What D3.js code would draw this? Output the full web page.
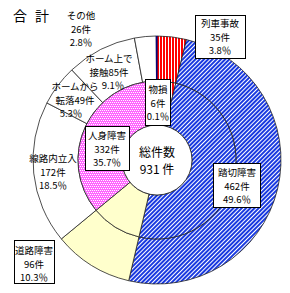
<!DOCTYPE html>
<html>
<head>
<meta charset="utf-8">
<title>合計</title>
<script src="https://d3js.org/d3.v7.min.js"></script>
<style>
  body { margin: 0; background: #fff; }
  text { font-family: "Noto Sans CJK JP", sans-serif; fill: #000; }
  pattern rect { shape-rendering: crispEdges; }
</style>
</head>
<body>
<svg width="290" height="293"></svg>
<script>
// inner ring: accident type
const innerCats = ["列車事故", "踏切障害", "道路障害", "人身障害", "物損"]
const innerCounts = [35, 462, 96, 332, 6]
const innerPct = [3.8, 49.6, 10.3, 35.7, 0.1]

// outer ring: 人身障害 split up
const outerCats = ["列車事故", "踏切障害", "道路障害", "線路内立入", "ホームから転落", "ホーム上で接触", "その他", "物損"]
const outerCounts = [35, 462, 96, 172, 49, 85, 26, 6]
const outerPct = [3.8, 49.6, 10.3, 18.5, 5.3, 9.1, 2.8, 0.1]

const totalCount = 931

const svg = d3.select("svg")
const cx = 157, cy = 160
const rHole = 35, rMid = 79, rOut = 124

const defs = svg.append("defs")

// red vertical stripes
const pRed = defs.append("pattern").attr("id", "pRed")
  .attr("patternUnits", "userSpaceOnUse").attr("width", 3).attr("height", 3)
pRed.append("rect").attr("width", 3).attr("height", 3).attr("fill", "#fff")
pRed.append("rect").attr("width", 2).attr("height", 3).attr("fill", "#ff0000")

// blue diagonal stripes
const pBlue = defs.append("pattern").attr("id", "pBlue")
  .attr("patternUnits", "userSpaceOnUse").attr("width", 3).attr("height", 3)
  .attr("patternTransform", "rotate(45)")
pBlue.append("rect").attr("width", 3).attr("height", 3).attr("fill", "#fff")
pBlue.append("rect").attr("width", 1.7).attr("height", 3).attr("fill", "#1a3ae0")

// magenta with white dots
const pPink = defs.append("pattern").attr("id", "pPink")
  .attr("patternUnits", "userSpaceOnUse").attr("width", 4).attr("height", 4)
pPink.append("rect").attr("width", 4).attr("height", 4).attr("fill", "#ff66ff")
;[[0, 0], [2, 0], [1, 2], [3, 2]].forEach(p => {
  pPink.append("rect").attr("x", p[0]).attr("y", p[1]).attr("width", 1).attr("height", 1).attr("fill", "#fff")
})

const fillOf = {
  "列車事故": "url(#pRed)",
  "踏切障害": "url(#pBlue)",
  "道路障害": "#ffffcc",
  "人身障害": "url(#pPink)",
  "物損": "#000080"
}
const outerFill = name => fillOf[name] && name !== "人身障害" ? fillOf[name] : "#fff"

const pie = d3.pie().sort(null).value(d => d.pct)

const innerData = innerCats.map((c, i) => ({ name: c, count: innerCounts[i], pct: innerPct[i] }))
const outerData = outerCats.map((c, i) => ({ name: c, count: outerCounts[i], pct: outerPct[i] }))

const g = svg.append("g").attr("transform", `translate(${cx},${cy})`)

const arcOuter = d3.arc().innerRadius(rMid).outerRadius(rOut)
const arcInner = d3.arc().innerRadius(rHole).outerRadius(rMid)

g.selectAll(".outer")
  .data(pie(outerData))
  .enter()
  .append("path")
  .attr("class", "outer")
  .attr("d", arcOuter)
  .attr("fill", d => outerFill(d.data.name))
  .attr("stroke", d => d.data.name === "物損" ? "#000080" : "#222")
  .attr("stroke-width", 0.8)

g.selectAll(".inner")
  .data(pie(innerData))
  .enter()
  .append("path")
  .attr("class", "inner")
  .attr("d", arcInner)
  .attr("fill", d => fillOf[d.data.name])
  .attr("stroke", d => d.data.name === "物損" ? "#000080" : "#222")
  .attr("stroke-width", 0.8)

g.append("circle").attr("r", rHole).attr("fill", "#fff").attr("stroke", "#222").attr("stroke-width", 0.8)

// title
const title = svg.append("text").attr("x", 13).attr("y", 21).attr("font-size", 14)
title.append("tspan").text("合")
title.append("tspan").attr("dx", 8).text("計")

// centre
g.append("text").attr("text-anchor", "middle").attr("y", -3).attr("font-size", 12).text("総件数")
g.append("text").attr("text-anchor", "middle").attr("y", 14).attr("font-size", 12).text(totalCount + " 件")

// label layout
const fs = 9.5
const lh = 13.5
const pctText = p => p + "％"
function block(x, y, lines, box, dxs) {
  const lg = svg.append("g")
  if (box) {
    lg.append("rect").attr("x", box[0] + 0.5).attr("y", box[1] + 0.5)
      .attr("width", box[2]).attr("height", box[3])
      .attr("fill", "#fff").attr("stroke", "#000").attr("stroke-width", 1)
  }
  lines.forEach((t, i) => {
    lg.append("text").attr("x", x + (dxs ? dxs[i] : 0)).attr("y", y + i * lh)
      .attr("text-anchor", "middle").attr("font-size", fs).text(t)
  })
}
const oi = name => outerCats.indexOf(name)
const ii = name => innerCats.indexOf(name)
const innerLines = name => [name, innerCounts[ii(name)] + "件", pctText(innerPct[ii(name)])]

block(220, 27, innerLines("列車事故"), [195, 15, 50, 43])
block(158, 93, innerLines("物損"), [145, 79, 25, 46])
block(107, 139, innerLines("人身障害"), [85, 126, 44, 44])
block(237, 176, innerLines("踏切障害"), [213, 163, 47, 44])
block(34, 254, innerLines("道路障害"), [14, 240, 40, 43])

block(81, 19, ["その他", outerCounts[oi("その他")] + "件", pctText(outerPct[oi("その他")])])
block(109, 62, ["ホーム上で", "接触" + outerCounts[oi("ホーム上で接触")] + "件", pctText(outerPct[oi("ホーム上で接触")])], null, [0, 0, 4])
block(75, 90, ["ホームから", "転落" + outerCounts[oi("ホームから転落")] + "件", pctText(outerPct[oi("ホームから転落")])], null, [0, 0, -4])
block(53, 162, ["線路内立入", outerCounts[oi("線路内立入")] + "件", pctText(outerPct[oi("線路内立入")])])
</script>
</body>
</html>
